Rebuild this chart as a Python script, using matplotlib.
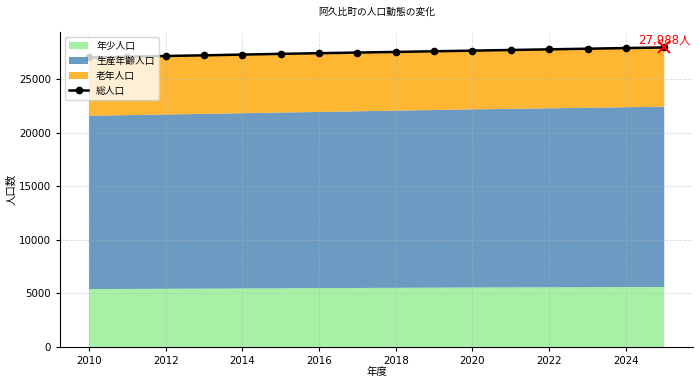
import matplotlib
matplotlib.use("Agg")
import matplotlib.pyplot as plt

plt.rcParams['font.family'] = ['DejaVu Sans', 'Noto Sans CJK JP']

# データ
years = list(range(2010, 2026))
nenshou = [5400, 5415, 5430, 5445, 5460, 5475, 5490, 5505, 5520, 5535, 5550, 5560, 5570, 5580, 5590, 5600]
seisan = [16200, 16245, 16290, 16335, 16380, 16425, 16470, 16515, 16560, 16605, 16650, 16690, 16730, 16770, 16810, 16850]
total = [27050, 27120, 27190, 27250, 27320, 27390, 27450, 27510, 27570, 27630, 27690, 27750, 27810, 27870, 27930, 27988]
rounen = [t - a - b for t, a, b in zip(total, nenshou, seisan)]

fig, ax = plt.subplots(figsize=(7, 3.82), dpi=100)

ax.stackplot(years, nenshou, seisan, rounen,
             labels=['年少人口', '生産年齢人口', '老年人口'],
             colors=['lightgreen', 'steelblue', 'orange'], alpha=0.8)
ax.plot(years, total, color='black', marker='o', markersize=4.5, linewidth=1.8, label='総人口')

# 最終年の注記
ax.plot(years[-1], total[-1], marker='x', color='red', markersize=8, markeredgewidth=1.5)
ax.text(years[-1], total[-1] + 100, f'{total[-1]:,}人', color='red', fontsize=8.5,
        ha='center', va='bottom')

ax.set_title('阿久比町の人口動態の変化', fontsize=7, pad=13)
ax.set_xlabel('年度', fontsize=7.5, labelpad=1)
ax.set_ylabel('人口数', fontsize=7.5, labelpad=2)
ax.tick_params(labelsize=7.4, length=3)
ax.grid(True, linestyle='--', linewidth=0.6, alpha=0.45)
ax.spines['top'].set_visible(False)
ax.spines['right'].set_visible(False)
ax.legend(loc='upper left', fontsize=7)

plt.subplots_adjust(left=0.086, right=0.99, top=0.915, bottom=0.092)
plt.savefig('out.png')
